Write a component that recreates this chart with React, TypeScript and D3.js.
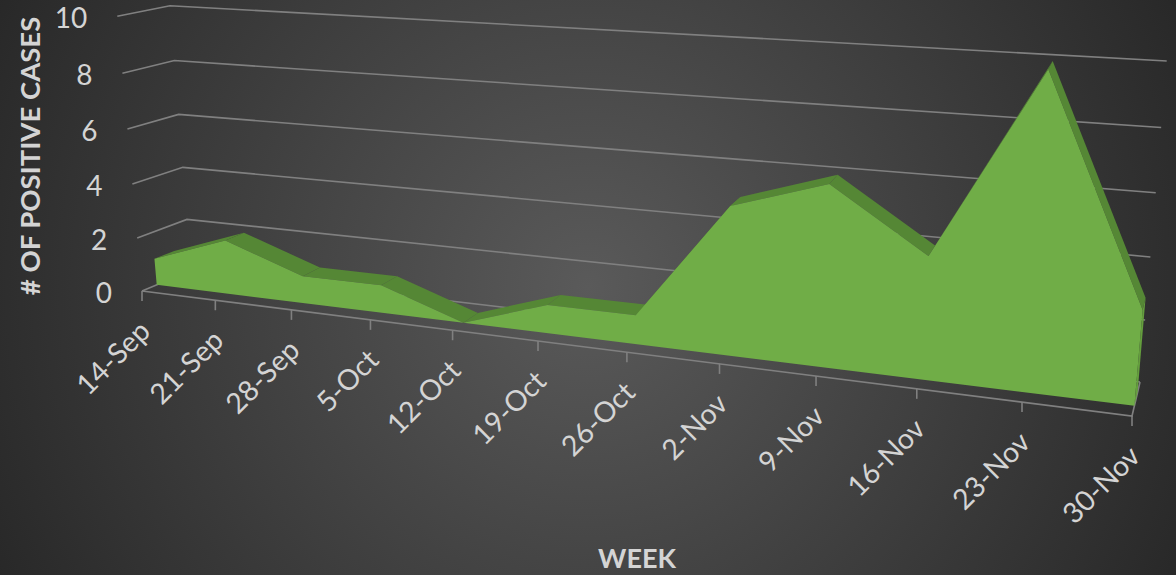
import React from 'react';
import * as d3 from 'd3';

// Values
const weeks = ['14-Sep', '21-Sep', '28-Sep', '5-Oct', '12-Oct', '19-Oct', '26-Oct', '2-Nov', '9-Nov', '16-Nov', '23-Nov', '30-Nov'];
const positiveCases = [1, 2, 1, 1, 0, 1, 1, 5, 6, 4, 10, 3];
const yTicks = [0, 2, 4, 6, 8, 10];

const width = 1176;
const height = 575;

// Pixel corners of the 3D box: front/back, left/right, bottom/top
const box = {
  flb: [142, 291], frb: [1132, 416], blb: [191, 270.5], brb: [1140, 382],
  flt: [117.3, 16.3], frt: [1161, 83], blt: [170, 5.7], brt: [1166.7, 61],
};

const areaFront = 0.3;
const areaBack = 0.7;

// foreshortening along an axis
const foreshorten = (s: number, k: number) => s / (k * (1 - s) + s);

const xPos = d3.scalePoint<string>().domain(weeks).range([0, 1]);
const yPos = d3.scaleLinear().domain([0, 10]).range([0, 1]);

const mix = (a: number[], b: number[], t: number) => d3.interpolateNumberArray(a, b)(t) as unknown as number[];

const project = (week: string, value: number, depth: number): number[] => {
  const u = foreshorten(xPos(week) as number, 1.25);
  const v = foreshorten(yPos(value), 1.045);
  const bottom = mix(mix(box.flb, box.frb, u), mix(box.blb, box.brb, u), depth);
  const top = mix(mix(box.flt, box.frt, u), mix(box.blt, box.brt, u), depth);
  return mix(bottom, top, v);
};

const poly = (pts: number[][]) => d3.line()(pts as [number, number][]) + 'Z';

const first = weeks[0];
const last = weeks[weeks.length - 1];

const frontFace = [
  ...weeks.map((w, i) => project(w, positiveCases[i], areaFront)),
  project(last, 0, areaFront),
  project(first, 0, areaFront),
];

const endCap = [
  project(last, positiveCases[positiveCases.length - 1], areaFront),
  project(last, positiveCases[positiveCases.length - 1], areaBack),
  project(last, 0, areaBack),
  project(last, 0, areaFront),
];

const gridColor = '#808080';
const textColor = '#d4d4d4';
const fontFamily = 'Lato, "Open Sans", sans-serif';

const App: React.FC = () => (
  <svg
    width={width}
    height={height}
    style={{ position: 'absolute', left: 0, top: 0, display: 'block' }}
    fontFamily={fontFamily}
  >
    <defs>
      <radialGradient id="bg" gradientUnits="userSpaceOnUse" cx={588} cy={287} r={660}>
        <stop offset="0" stopColor="#5a5a5a" />
        <stop offset="1" stopColor="#282828" />
      </radialGradient>
    </defs>
    <rect width={width} height={height} fill="url(#bg)" />

    {/* walls */}
    {yTicks.map(t => (
      <g key={t}>
        <path
          d={d3.line()([project(first, t, 0), project(first, t, 1), project(last, t, 1)] as [number, number][]) as string}
          fill="none"
          stroke={gridColor}
          strokeWidth={1.6}
        />
        <text
          x={project(first, t, 0)[0] - 30}
          y={project(first, t, 0)[1] + 2}
          dy="0.35em"
          textAnchor="end"
          fontSize={28}
          fill={textColor}
        >
          {t}
        </text>
      </g>
    ))}

    {/* floor edges */}
    <path d={d3.line()([project(first, 0, 0), project(last, 0, 0), project(last, 0, 1)] as [number, number][]) as string} fill="none" stroke={gridColor} strokeWidth={1.6} />

    {/* x ticks and labels */}
    {weeks.map(w => {
      const [x, y] = project(w, 0, 0);
      return (
        <g key={w}>
          <line x1={x} x2={x} y1={y} y2={y + 10} stroke={gridColor} strokeWidth={1.6} />
          <text
            transform={`translate(${x + 10},${y + 42}) rotate(-45)`}
            textAnchor="end"
            fontSize={28.5}
            fill={textColor}
          >
            {w}
          </text>
        </g>
      );
    })}

    {/* area top strips */}
    {weeks.slice(1).map((w, i) => (
      <path
        key={w}
        d={poly([
          project(weeks[i], positiveCases[i], areaFront),
          project(weeks[i], positiveCases[i], areaBack),
          project(w, positiveCases[i + 1], areaBack),
          project(w, positiveCases[i + 1], areaFront),
        ])}
        fill="#558735"
      />
    ))}
    <path d={poly(endCap)} fill="#649e3d" />
    <path d={poly(frontFace)} fill="#70ad47" />

    {/* titles */}
    <text
      transform="translate(40,156) rotate(-90)"
      textAnchor="middle"
      fontSize={27.5}
      fontWeight="bold"
      fill={textColor}
    >
      # OF POSITIVE CASES
    </text>
    <text x={637} y={568} textAnchor="middle" fontSize={27} fontWeight="bold" fill={textColor}>
      WEEK
    </text>
  </svg>
);

export default App;
